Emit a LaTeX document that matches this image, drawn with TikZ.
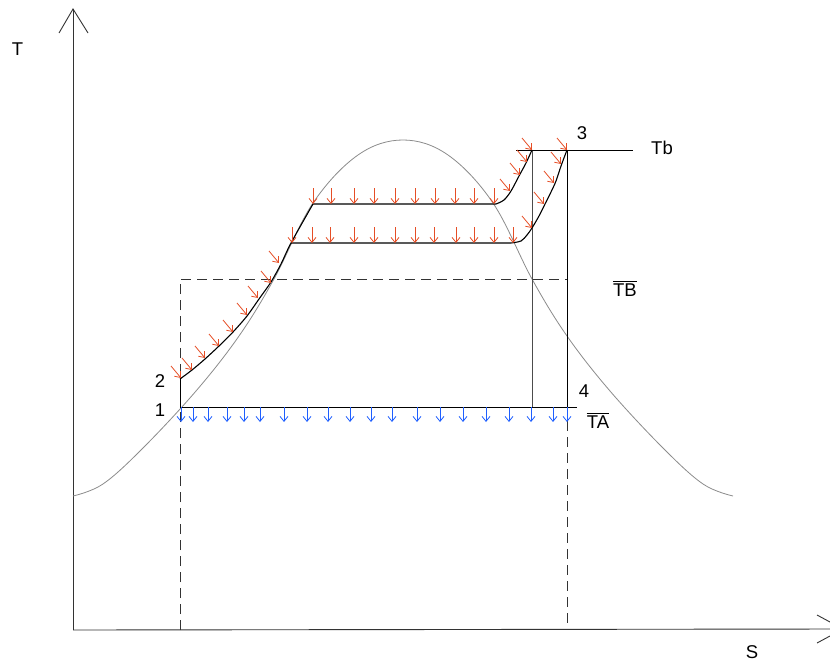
\documentclass[tikz,border=0pt]{standalone}
\usepackage{fontspec}
\setmainfont{Liberation Sans}
\usetikzlibrary{arrows.meta}
\definecolor{redc}{RGB}{230,78,38}
\definecolor{bluec}{RGB}{30,95,255}
\tikzset{
  rarr/.style={draw=redc,line width=0.8pt,-{Straight Barb[length=5pt,width=8pt]}},
  barr/.style={draw=bluec,line width=0.8pt,-{Straight Barb[length=5pt,width=8pt]}},
  proc/.style={draw=black,line width=1.1pt},
  thin/.style={draw=black,line width=0.9pt},
  dashbox/.style={draw=black!80,line width=0.9pt,dash pattern=on 10pt off 6pt},
  satcurve/.style={draw=black!45,line width=0.8pt},
  axisline/.style={draw=black!80,line width=0.9pt},
  lbl/.style={inner sep=0pt,font=\fontsize{18.5}{20}\selectfont},
  ovl/.style={draw=black,line width=0.8pt}
}
\begin{document}
\begin{tikzpicture}[x=1pt,y=-1pt]
\useasboundingbox (0,0) rectangle (830,661);
\fill[white] (0,0) rectangle (830,661);
% key points
\coordinate (O) at (73,630);
\coordinate (Ytip) at (73,9);
\coordinate (Xtip) at (843,629);
\coordinate (p1) at (180,407);
\coordinate (p2) at (180,379);
\coordinate (p3) at (567,150);
\coordinate (p4) at (567,407);
\coordinate (q3) at (532,150);
\coordinate (q4) at (532,407);
\coordinate (TAend) at (577,407);
\coordinate (Tbs) at (516,150);
\coordinate (Tbe) at (633,150);
% axes
\draw[axisline] (O) -- (Ytip);
\draw[axisline] (59,33) -- (Ytip) -- (88,33);
\draw[axisline] (O) -- (Xtip);
\draw[axisline] (817,615) -- (Xtip) -- (817,643);
% saturation curve
\draw[satcurve] plot[smooth,tension=0.6] coordinates {(73,496) (103,484) (143,448) (196,391) (239,336) (274,279) (313,203) (358,155) (403,140) (448,155) (493,203) (532,279) (567,336) (610,391) (663,448) (703,484) (733,496)};
% dashed box
\draw[dashbox] (180,630) -- (180,279) -- (567,279) -- (567,630);
% verticals and horizontals
\draw[draw=black!70,line width=0.9pt] (q3) -- (q4);
\draw[thin] (p3) -- (p4);
\draw[thin] (p1) -- (TAend);
\draw[thin] (p1) -- (p2);
\draw[thin] (Tbs) -- (Tbe);
% process curves
\draw[proc] plot[smooth] coordinates {(180,379) (192,370) (205,359) (219,346) (233,332) (247,316) (259,299) (271,282) (281,264) (291,243) (313,204)};
\draw[proc] (313,204) -- plot[smooth] coordinates {(496,204) (504,200) (511,191) (519,176) (526,163) (532,150)};
\draw[proc] (291,243) -- plot[smooth] coordinates {(511,243) (521,241) (527,235) (532,228) (539,216) (545,204) (551,192) (556,181) (561,166) (567,150)};
% red arrows
\foreach \x in {313,331,354,374,395,415,435,455,474,494} \draw[rarr] (\x,188) -- (\x,204);
\foreach \x in {292,312,330,354,374,395,415,434,456,474,494,513} \draw[rarr] (\x,227) -- (\x,243);
\foreach \x/\y in {181/378,192/370,205/358,219/346,233/332,247/315,258/298,271/283,279/263,510/191,520/175,527/162,532/150,532/228,544/204,554/183,561/164,567/150}
  \draw[rarr] ({\x-10},{\y-12}) -- (\x,\y);
% blue arrows
\foreach \x in {181,193,208,227,244,260,284,307,328,350,371,392,417,440,463,486,509,531,553,567} \draw[barr] (\x,407) -- (\x,422);
% labels
\node[lbl] (lT) at (17.5,49.5) {T};
\node[lbl] (lS) at (752,652) {S};
\node[lbl] (l1) at (160,410) {1};
\node[lbl] (l2) at (160,381) {2};
\node[lbl] (l3) at (582,133) {3};
\node[lbl] (l4) at (584,391) {4};
\node[lbl] (lTb) at (662,148) {Tb};
\node[lbl] (lTB) at (625,290) {TB};
\draw[ovl] (lTB.north west) ++(0,-2.5) -- ([xshift=0pt,yshift=2.5pt]lTB.north east);
\node[lbl] (lTA) at (598,422) {TA};
\draw[ovl] (lTA.north west) ++(0,-2.5) -- ([yshift=2.5pt]lTA.north east);
\end{tikzpicture}
\end{document}
